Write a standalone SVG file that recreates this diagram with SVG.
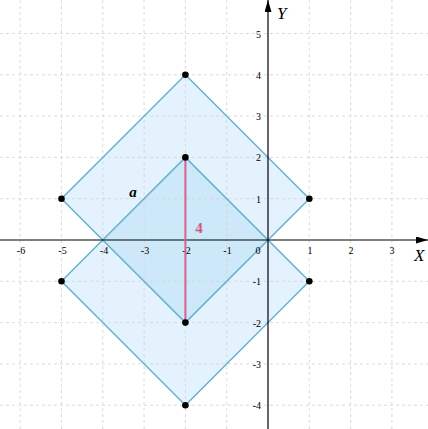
<svg xmlns="http://www.w3.org/2000/svg" width="428" height="429" viewBox="0 0 428 429">
<style>
.grid line{stroke:#d2d2d2;stroke-width:1;stroke-dasharray:3 3;stroke-opacity:0.8}
.fill{fill:#e3f2fc;stroke:none}
.edge{fill:none;stroke:#6ab2cf;stroke-width:1.5;stroke-linejoin:miter}
.tick{font-family:"Liberation Serif",serif;font-size:10px;fill:#000}
.axl{font-family:"Liberation Serif",serif;font-size:17px;font-style:italic;fill:#000}
.dot{fill:#000}
</style>
<defs>
<marker id="arr" viewBox="0 0 12 7" refX="12" refY="3.5" markerWidth="12" markerHeight="7" markerUnits="userSpaceOnUse" orient="auto">
<path d="M0,0 L12,3.5 L0,7 Z" fill="#000"/>
</marker>
</defs>
<rect width="428" height="429" fill="#fff"/>
<g id="square-fills">
<polygon class="fill" points="185.4,74.8 309.3,198.7 185.4,322.6 61.5,198.7"/>
<polygon class="fill" points="185.4,157.4 309.3,281.3 185.4,405.2 61.5,281.3"/>
<polygon fill="#cde9f9" points="185.4,157.4 268,240 185.4,322.6 102.8,240"/>
</g>
<g class="grid">
<line x1="20.2" y1="0" x2="20.2" y2="429"/>
<line x1="61.5" y1="0" x2="61.5" y2="429"/>
<line x1="102.8" y1="0" x2="102.8" y2="429"/>
<line x1="144.1" y1="0" x2="144.1" y2="429"/>
<line x1="185.4" y1="0" x2="185.4" y2="429"/>
<line x1="226.7" y1="0" x2="226.7" y2="429"/>
<line x1="309.3" y1="0" x2="309.3" y2="429"/>
<line x1="350.6" y1="0" x2="350.6" y2="429"/>
<line x1="391.9" y1="0" x2="391.9" y2="429"/>
<line x1="0" y1="33.5" x2="428" y2="33.5"/>
<line x1="0" y1="74.8" x2="428" y2="74.8"/>
<line x1="0" y1="116.1" x2="428" y2="116.1"/>
<line x1="0" y1="157.4" x2="428" y2="157.4"/>
<line x1="0" y1="198.7" x2="428" y2="198.7"/>
<line x1="0" y1="281.3" x2="428" y2="281.3"/>
<line x1="0" y1="322.6" x2="428" y2="322.6"/>
<line x1="0" y1="363.9" x2="428" y2="363.9"/>
<line x1="0" y1="405.2" x2="428" y2="405.2"/>
</g>
<g id="square-upper">
<polygon class="edge" points="185.4,74.8 309.3,198.7 185.4,322.6 61.5,198.7"/>
</g>
<g id="square-lower">
<polygon class="edge" points="185.4,157.4 309.3,281.3 185.4,405.2 61.5,281.3"/>
</g>
<g id="axes">
<line x1="0" y1="240" x2="428" y2="240" stroke="#000" stroke-width="1.2" marker-end="url(#arr)"/>
<line x1="268" y1="429" x2="268" y2="0" stroke="#000" stroke-width="1.2" marker-end="url(#arr)"/>
<text class="axl" x="414" y="261">X</text>
<text class="axl" x="277" y="19">Y</text>
</g>
<g id="ticks-x" class="tick" text-anchor="middle">
<text x="21" y="254">-6</text>
<text x="62.5" y="254">-5</text>
<text x="104" y="254">-4</text>
<text x="145" y="254">-3</text>
<text x="186.5" y="254">-2</text>
<text x="227.5" y="254">-1</text>
<text x="258" y="254">0</text>
<text x="310" y="254">1</text>
<text x="351" y="254">2</text>
<text x="392" y="254">3</text>
</g>
<g id="ticks-y" class="tick" text-anchor="end">
<text x="261" y="37.5">5</text>
<text x="261" y="78.8">4</text>
<text x="261" y="120.1">3</text>
<text x="261" y="161.4">2</text>
<text x="261" y="202.7">1</text>
<text x="261" y="285.3">-1</text>
<text x="261" y="326.6">-2</text>
<text x="261" y="367.9">-3</text>
<text x="261" y="409.2">-4</text>
</g>
<g id="connectors">
<line id="diagonal" x1="185.4" y1="157.4" x2="185.4" y2="322.6" stroke="#d9628d" stroke-width="2"/>
</g>
<g id="points">
<circle class="dot" cx="185.4" cy="74.8" r="3.3"/>
<circle class="dot" cx="309.3" cy="198.7" r="3.3"/>
<circle class="dot" cx="61.5" cy="198.7" r="3.3"/>
<circle class="dot" cx="185.4" cy="157.4" r="3.3"/>
<circle class="dot" cx="185.4" cy="322.6" r="3.3"/>
<circle class="dot" cx="309.3" cy="281.3" r="3.3"/>
<circle class="dot" cx="61.5" cy="281.3" r="3.3"/>
<circle class="dot" cx="185.4" cy="405.2" r="3.3"/>
</g>
<g id="labels">
<text x="133" y="197" text-anchor="middle" font-family="'Liberation Serif',serif" font-size="15" font-style="italic" font-weight="bold" fill="#000">a</text>
<text x="199" y="233" text-anchor="middle" font-family="'Liberation Serif',serif" font-size="15" font-weight="bold" fill="#d0557f">4</text>
</g>
</svg>
